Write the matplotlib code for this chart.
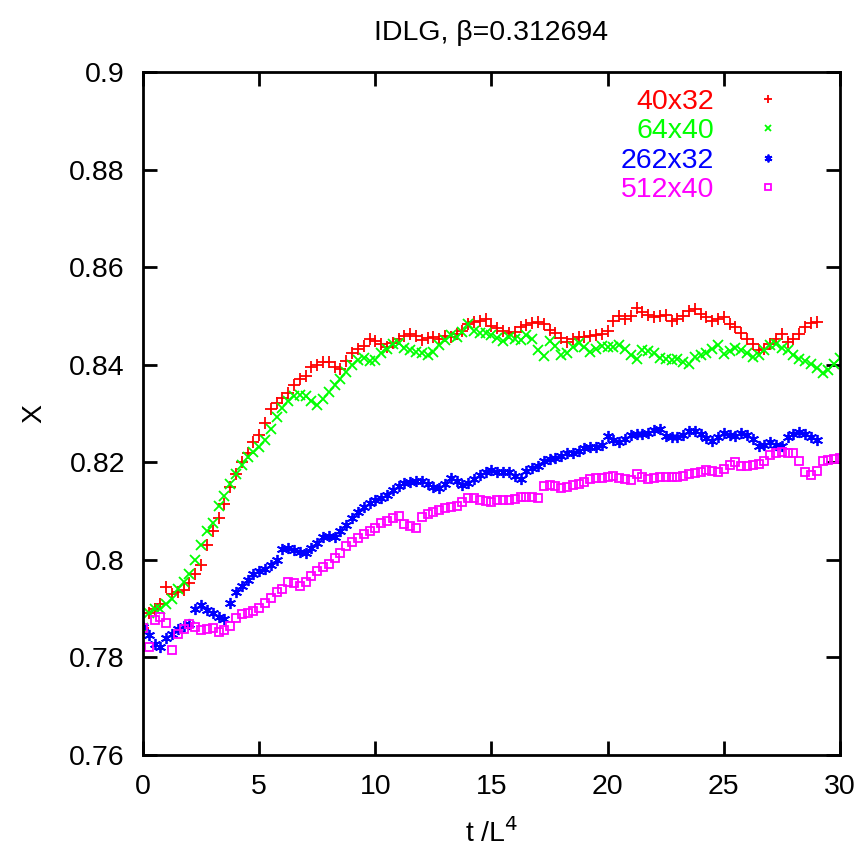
import matplotlib
matplotlib.use("Agg")
import matplotlib.pyplot as plt
import numpy as np

plt.rcParams['font.family'] = ['Liberation Sans', 'DejaVu Sans']
FS = 20.5

# susceptibility X vs rescaled time, sampled every 0.25
t_short = np.arange(0, 29.01, 0.25)
t_long = np.arange(0, 30.01, 0.25)

x_40x32 = [
    0.7860, 0.7890, 0.7900, 0.7910, 0.7945, 0.7930, 0.7935, 0.7938,
    0.7953, 0.7970, 0.7990, 0.8030, 0.8060, 0.8085, 0.8115, 0.8150,
    0.8175, 0.8200, 0.8220, 0.8242, 0.8255, 0.8280, 0.8310, 0.8322,
    0.8332, 0.8342, 0.8358, 0.8370, 0.8377, 0.8395, 0.8400, 0.8405,
    0.8406, 0.8395, 0.8392, 0.8408, 0.8424, 0.8432, 0.8438, 0.8453,
    0.8448, 0.8442, 0.8436, 0.8444, 0.8452, 0.8458, 0.8463, 0.8458,
    0.8450, 0.8454, 0.8457, 0.8452, 0.8458, 0.8456, 0.8462, 0.8470,
    0.8484, 0.8487, 0.8490, 0.8494, 0.8480, 0.8476, 0.8470, 0.8466,
    0.8468, 0.8478, 0.8482, 0.8486, 0.8488, 0.8484, 0.8472, 0.8466,
    0.8455, 0.8446, 0.8452, 0.8456, 0.8457, 0.8458, 0.8460, 0.8462,
    0.8470, 0.8490, 0.8500, 0.8494, 0.8500, 0.8516, 0.8508, 0.8502,
    0.8497, 0.8500, 0.8502, 0.8490, 0.8493, 0.8499, 0.8510, 0.8514,
    0.8503, 0.8498, 0.8490, 0.8494, 0.8497, 0.8483, 0.8477, 0.8465,
    0.8452, 0.8443, 0.8430, 0.8432, 0.8442, 0.8452, 0.8462, 0.8447,
    0.8452, 0.8462, 0.8478, 0.8486, 0.8488,
]

x_64x40 = [
    0.7860, 0.7890, 0.7900, 0.7900, 0.7910, 0.7920, 0.7940, 0.7955,
    0.7970, 0.8000, 0.8030, 0.8060, 0.8075, 0.8110, 0.8130, 0.8155,
    0.8175, 0.8195, 0.8210, 0.8222, 0.8232, 0.8245, 0.8268, 0.8292,
    0.8312, 0.8325, 0.8335, 0.8338, 0.8335, 0.8326, 0.8318, 0.8330,
    0.8345, 0.8358, 0.8370, 0.8386, 0.8400, 0.8410, 0.8413, 0.8408,
    0.8410, 0.8425, 0.8432, 0.8442, 0.8445, 0.8435, 0.8430, 0.8427,
    0.8423, 0.8420, 0.8426, 0.8440, 0.8450, 0.8460, 0.8457, 0.8468,
    0.8484, 0.8470, 0.8466, 0.8465, 0.8460, 0.8455, 0.8448, 0.8456,
    0.8452, 0.8450, 0.8460, 0.8452, 0.8430, 0.8418, 0.8448, 0.8438,
    0.8420, 0.8425, 0.8437, 0.8444, 0.8436, 0.8427, 0.8432, 0.8438,
    0.8437, 0.8436, 0.8440, 0.8432, 0.8420, 0.8412, 0.8430, 0.8428,
    0.8425, 0.8414, 0.8411, 0.8410, 0.8411, 0.8406, 0.8402, 0.8416,
    0.8420, 0.8425, 0.8433, 0.8440, 0.8422, 0.8428, 0.8434, 0.8431,
    0.8424, 0.8416, 0.8420, 0.8430, 0.8440, 0.8442, 0.8434, 0.8430,
    0.8420, 0.8411, 0.8408, 0.8402, 0.8393, 0.8384, 0.8390, 0.8402,
    0.8414,
]

x_262x32 = [
    0.7862, 0.7845, 0.7828, 0.7822, 0.7840, 0.7848, 0.7858, 0.7864,
    0.7868, 0.7900, 0.7908, 0.7897, 0.7890, 0.7882, 0.7878, 0.7912,
    0.7935, 0.7947, 0.7959, 0.7970, 0.7977, 0.7982, 0.7990, 0.8000,
    0.8022, 0.8025, 0.8020, 0.8016, 0.8015, 0.8025, 0.8035, 0.8047,
    0.8048, 0.8046, 0.8060, 0.8072, 0.8086, 0.8098, 0.8108, 0.8116,
    0.8122, 0.8127, 0.8133, 0.8143, 0.8152, 0.8157, 0.8160, 0.8162,
    0.8162, 0.8156, 0.8150, 0.8147, 0.8156, 0.8168, 0.8162, 0.8154,
    0.8158, 0.8166, 0.8174, 0.8180, 0.8184, 0.8181, 0.8180, 0.8180,
    0.8172, 0.8166, 0.8182, 0.8188, 0.8192, 0.8203, 0.8207, 0.8209,
    0.8213, 0.8219, 0.8220, 0.8223, 0.8229, 0.8232, 0.8231, 0.8235,
    0.8254, 0.8246, 0.8241, 0.8248, 0.8255, 0.8257, 0.8258, 0.8261,
    0.8266, 0.8268, 0.8254, 0.8252, 0.8252, 0.8256, 0.8264, 0.8264,
    0.8257, 0.8249, 0.8243, 0.8252, 0.8260, 0.8255, 0.8254, 0.8261,
    0.8256, 0.8248, 0.8233, 0.8236, 0.8242, 0.8235, 0.8234, 0.8251,
    0.8258, 0.8262, 0.8258, 0.8252, 0.8246,
]

x_512x40 = [
    0.7860, 0.7822, 0.7877, 0.7882, 0.7870, 0.7815, 0.7848, 0.7858,
    0.7868, 0.7862, 0.7856, 0.7858, 0.7860, 0.7853, 0.7856, 0.7865,
    0.7880, 0.7888, 0.7890, 0.7895, 0.7902, 0.7912, 0.7922, 0.7934,
    0.7940, 0.7955, 0.7952, 0.7946, 0.7955, 0.7967, 0.7978, 0.7985,
    0.7992, 0.8003, 0.8014, 0.8028, 0.8037, 0.8045, 0.8052, 0.8060,
    0.8066, 0.8076, 0.8080, 0.8086, 0.8090, 0.8074, 0.8070, 0.8066,
    0.8088, 0.8094, 0.8098, 0.8103, 0.8106, 0.8108, 0.8110, 0.8118,
    0.8127, 0.8127, 0.8123, 0.8121, 0.8119, 0.8122, 0.8123, 0.8123,
    0.8125, 0.8129, 0.8129, 0.8128, 0.8127, 0.8152, 0.8154, 0.8152,
    0.8148, 0.8150, 0.8154, 0.8156, 0.8159, 0.8165, 0.8168, 0.8168,
    0.8170, 0.8172, 0.8168, 0.8166, 0.8164, 0.8176, 0.8170, 0.8165,
    0.8168, 0.8170, 0.8170, 0.8170, 0.8170, 0.8172, 0.8175, 0.8177,
    0.8180, 0.8184, 0.8182, 0.8181, 0.8187, 0.8195, 0.8200, 0.8192,
    0.8192, 0.8195, 0.8197, 0.8202, 0.8214, 0.8220, 0.8221, 0.8219,
    0.8219, 0.8202, 0.8180, 0.8174, 0.8183, 0.8203, 0.8205, 0.8207,
    0.8209,
]

fig = plt.figure(figsize=(8.6, 8.5), dpi=100)
ax = fig.add_axes([0.1663, 0.1118, 0.8104, 0.8035])

ax.plot(t_short, x_40x32, ls='none', marker='+', ms=8, mew=1.3,
        color='#ff0000', label='40x32')
ax.plot(t_long, x_64x40, ls='none', marker='x', ms=7, mew=1.3,
        color='#00ff00', label='64x40')
ax.plot(t_short, x_262x32, ls='none', marker=(6, 2, 0), ms=8, mew=1.3,
        color='#0000ff', label='262x32')
ax.plot(t_long, x_512x40, ls='none', marker='s', ms=5.5, mew=1.3,
        mfc='none', color='#ff00ff', label='512x40')

ax.set_xlim(0, 30)
ax.set_ylim(0.76, 0.9)
ax.set_xticks([0, 5, 10, 15, 20, 25, 30])
ax.set_yticks([0.76, 0.78, 0.8, 0.82, 0.84, 0.86, 0.88, 0.9])
ax.set_yticklabels(['0.76', '0.78', '0.8', '0.82', '0.84', '0.86', '0.88', '0.9'])
ax.tick_params(direction='in', length=10, width=2, labelsize=FS,
               top=True, right=True)
ax.tick_params(axis='x', pad=14)
ax.tick_params(axis='y', pad=13)
for s in ax.spines.values():
    s.set_linewidth(2.0)

ax.set_xlabel(r't /L$^4$', fontsize=FS, labelpad=13)
ax.set_ylabel('X', fontsize=FS, labelpad=16)
ax.set_title('IDLG, \u03b2=0.312694', fontsize=FS, pad=23)

ax.legend(loc='upper right', frameon=False, markerfirst=False,
          labelcolor='linecolor', fontsize=FS, markerscale=0.7,
          handlelength=1.2, handletextpad=1.3, labelspacing=0.12,
          borderaxespad=0.5, bbox_to_anchor=(0.958, 1.013))

fig.savefig('out.png', dpi=100)
